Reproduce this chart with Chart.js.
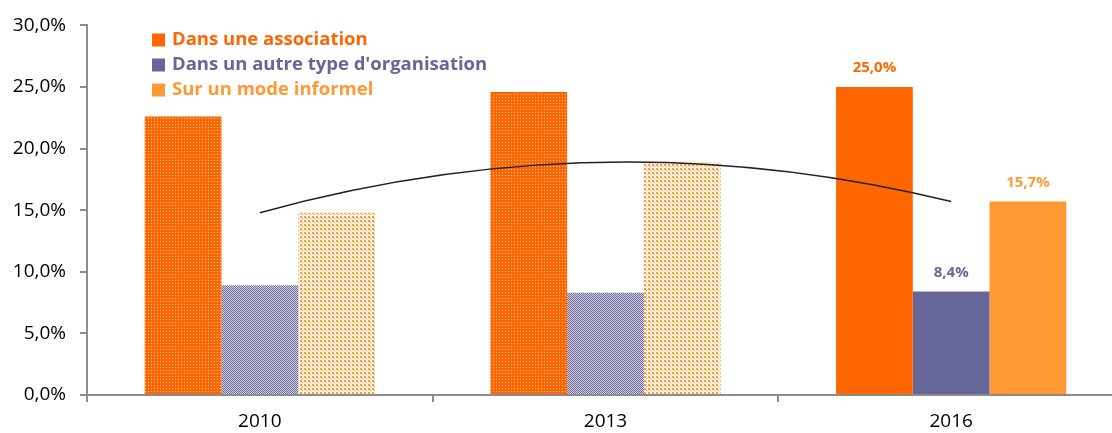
<!DOCTYPE html>
<html>
<head>
<meta charset="utf-8">
<script src="https://cdn.jsdelivr.net/npm/chart.js@4.4.1/dist/chart.umd.min.js"></script>
<style>
    html, body { margin: 0; padding: 0; background: #fff; overflow: hidden; }
    #wrap { position: relative; width: 1124px; height: 433px; }
</style>
</head>
<body>
<div id="wrap"><canvas id="grafico"></canvas></div>
<script>
// Données
const annees = ['2010', '2013', '2016'];
const association = [22.6, 24.6, 25.0];
const autreOrganisation = [8.9, 8.3, 8.4];
const modeInformel = [14.8, 18.9, 15.7];
const tendance = [14.8, 18.9, 15.7];
const etiquettesY = ['0,0%', '5,0%', '10,0%', '15,0%', '20,0%', '25,0%', '30,0%'];

const ORANGE = '#FF6600';
const VIOLET = '#666699';
const ORANGE_CLAIR = '#FF9933';

// Motifs pour les années précédentes
function motif(w, h, fond, points, couleur) {
    const c = document.createElement('canvas');
    c.width = w; c.height = h;
    const g = c.getContext('2d');
    g.fillStyle = fond;
    g.fillRect(0, 0, w, h);
    g.fillStyle = couleur;
    points.forEach(p => g.fillRect(p[0], p[1], p[2], p[3]));
    return g.createPattern(c, 'repeat');
}

const motifAssoc = motif(3, 3, ORANGE, [[1, 1, 1, 1]], '#FFD0B0');
const motifViolet = motif(2, 2, '#D6D6E6', [[0, 0, 1, 1], [1, 1, 1, 1]], VIOLET);
const motifInformel = motif(4, 4, '#FFF3E6', [[0, 0, 2, 2], [2, 2, 1, 1]], ORANGE_CLAIR);

// Légende dessinée dans la zone du graphique
const legendePlugin = {
    id: 'legendeInterne',
    afterDraw(chart) {
        const ctx = chart.ctx;
        ctx.save();
        ctx.font = 'bold 18.5px "Open Sans"';
        ctx.textBaseline = 'middle';
        chart.data.datasets.forEach((ds, i) => {
            if (ds.type === 'line') return;
            const y = 40 + i * 25;
            ctx.fillStyle = ds.couleur;
            ctx.fillRect(152, y - 6.5, 13, 13);
            ctx.fillText(ds.label, 172, y);
        });
        ctx.restore();
    }
};

// Valeurs affichées pour 2016
const valeursPlugin = {
    id: 'valeurs',
    afterDatasetsDraw(chart) {
        const ctx = chart.ctx;
        ctx.save();
        ctx.font = 'bold 15px "Open Sans"';
        ctx.textAlign = 'center';
        ctx.textBaseline = 'alphabetic';
        chart.data.datasets.forEach((ds, i) => {
            if (ds.type === 'line') return;
            const el = chart.getDatasetMeta(i).data[2];
            ctx.fillStyle = ds.couleur;
            ctx.fillText(ds.data[2].toFixed(1).replace('.', ',') + '%', el.x, el.y - 15);
        });
        ctx.restore();
    }
};

// Courbe de tendance polynomiale (parabole passant par les points de la série)
const tendancePlugin = {
    id: 'tendance',
    afterDatasetsDraw(chart) {
        const idx = chart.data.datasets.findIndex(ds => ds.type === 'line');
        const pts = chart.getDatasetMeta(idx).data;
        if (pts.length < 3) return;
        const [p0, p1, p2] = pts;
        const cx = 2 * p1.x - (p0.x + p2.x) / 2;
        const cy = 2 * p1.y - (p0.y + p2.y) / 2;
        const ctx = chart.ctx;
        ctx.save();
        ctx.strokeStyle = '#222';
        ctx.lineWidth = 1.6;
        ctx.beginPath();
        ctx.moveTo(p0.x, p0.y);
        ctx.quadraticCurveTo(cx, cy, p2.x, p2.y);
        ctx.stroke();
        ctx.restore();
    }
};

new Chart(document.getElementById('grafico'), {
    type: 'bar',
    data: {
        labels: annees,
        datasets: [{
            label: 'Dans une association',
            data: association,
            couleur: ORANGE,
            backgroundColor: [motifAssoc, motifAssoc, ORANGE],
            categoryPercentage: 0.666,
            barPercentage: 1.0,
            order: 2
        }, {
            label: 'Dans un autre type d\'organisation',
            data: autreOrganisation,
            couleur: VIOLET,
            backgroundColor: [motifViolet, motifViolet, VIOLET],
            categoryPercentage: 0.666,
            barPercentage: 1.0,
            order: 2
        }, {
            label: 'Sur un mode informel',
            data: modeInformel,
            couleur: ORANGE_CLAIR,
            backgroundColor: [motifInformel, motifInformel, ORANGE_CLAIR],
            categoryPercentage: 0.666,
            barPercentage: 1.0,
            order: 2
        }, {
            type: 'line',
            label: 'Tendance',
            data: tendance,
            showLine: false,
            pointRadius: 0,
            order: 1
        }]
    },
    options: {
        responsive: true,
        maintainAspectRatio: false,
        animation: false,
        layout: { padding: { top: 24, right: 0, left: 0, bottom: 0 } },
        plugins: {
            legend: { display: false },
            tooltip: { enabled: false }
        },
        scales: {
            x: {
                grid: {
                    offset: true,
                    drawOnChartArea: false,
                    drawTicks: true,
                    tickLength: 7,
                    lineWidth: 2,
                    color: '#8c8c8c'
                },
                border: { color: '#8c8c8c', width: 2 },
                ticks: {
                    color: '#000',
                    font: { family: 'Open Sans', size: 19 },
                    padding: 8
                },
                afterFit(scale) { scale.height = 38; }
            },
            y: {
                min: 0,
                max: 30,
                grid: {
                    drawOnChartArea: false,
                    drawTicks: true,
                    tickLength: 7,
                    lineWidth: 2,
                    color: '#8c8c8c'
                },
                border: { color: '#8c8c8c', width: 2 },
                ticks: {
                    stepSize: 5,
                    color: '#000',
                    font: { family: 'Open Sans', size: 19 },
                    padding: 14,
                    callback: (v, i) => etiquettesY[i]
                },
                afterFit(scale) { scale.width = 87; }
            }
        }
    },
    plugins: [legendePlugin, valeursPlugin, tendancePlugin]
});
</script>
</body>
</html>
